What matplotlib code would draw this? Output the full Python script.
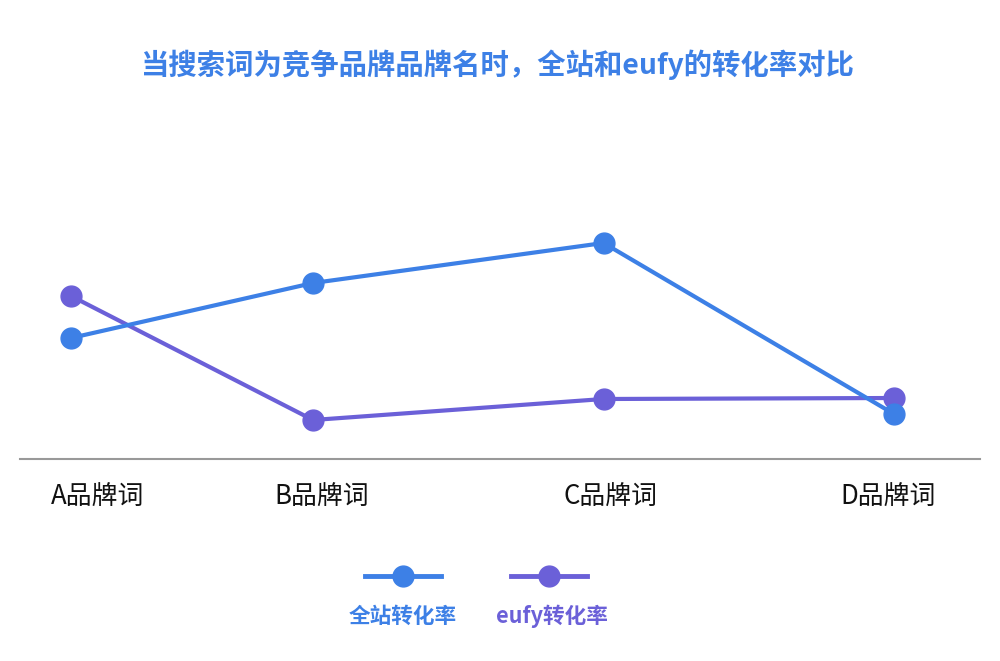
import matplotlib
matplotlib.use("Agg")
import matplotlib.pyplot as plt
from matplotlib.lines import Line2D

plt.rcParams['font.family'] = ['Noto Sans CJK SC', 'DejaVu Sans']

# data
categories = ['A品牌词', 'B品牌词', 'C品牌词', 'D品牌词']
cat_pos = [0, 1, 2.2, 3.4]
site_rate = [1.21, 1.76, 2.16, 0.45]
eufy_rate = [1.63, 0.39, 0.60, 0.61]
series_names = ['全站转化率', 'eufy转化率']

blue = '#3D80E6'
purple = '#6B60D8'
title = '当搜索词为竞争品牌品牌名时，全站和eufy的转化率对比'

fig = plt.figure(figsize=(10, 6.61), dpi=100)
ax = fig.add_axes([0.02, 1 - 459 / 661, 0.96, 259 / 661])

ax.plot(cat_pos, eufy_rate, color=purple, lw=3, marker='o', ms=15,
        solid_capstyle='round', zorder=2)
ax.plot(cat_pos, site_rate, color=blue, lw=3, marker='o', ms=15,
        solid_capstyle='round', zorder=3)

ax.set_xlim(-51 / 242, 3.4 + 86 / 242)
ax.set_ylim(0, 2.59)
for s in ['top', 'right', 'left']:
    ax.spines[s].set_visible(False)
ax.spines['bottom'].set_color('#999999')
ax.spines['bottom'].set_linewidth(1.5)
ax.set_yticks([])
ax.set_xticks(cat_pos)
ax.set_xticklabels(categories, fontsize=18.6, color='#111111')
ax.tick_params(axis='x', length=0, pad=17)
# labels sit a little right of the points in the original
for lab, dx in zip(ax.get_xticklabels(), [27, 9, 7, -6]):
    lab.set_transform(lab.get_transform() +
                      matplotlib.transforms.ScaledTranslation(dx / 100, 0, fig.dpi_scale_trans))

fig.text(0.497, 1 - 65 / 661, title, ha='center', va='center',
         fontsize=20.4, fontweight='bold', color=blue)

# legend drawn by hand: handle on top, label below
for (x0, x1, xm, xt), col, name in zip([(365, 441, 403, 403), (511, 587, 549, 552)],
                                        [blue, purple], series_names):
    y = 1 - 576 / 661
    fig.add_artist(Line2D([x0 / 1000, x1 / 1000], [y, y], color=col, lw=3.5))
    fig.add_artist(Line2D([xm / 1000], [y], color=col, marker='o', ms=15, lw=0))
    fig.text(xt / 1000, 1 - 616 / 661, name, ha='center', va='center',
             fontsize=15.6, fontweight='bold', color=col)

fig.savefig('out.png', dpi=100, facecolor='white')
